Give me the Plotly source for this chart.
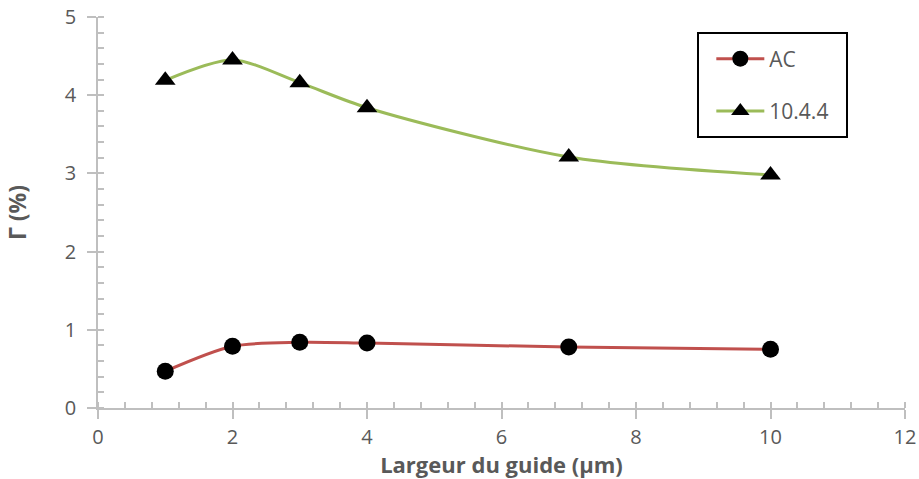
import plotly.graph_objects as go

x_vals = [1, 2, 3, 4, 7, 10]
ac_vals = [0.47, 0.79, 0.84, 0.83, 0.78, 0.75]
s1044_vals = [4.19, 4.45, 4.16, 3.84, 3.21, 2.98]
series_names = ["AC", "10.4.4"]

fig = go.Figure()
fig.add_trace(go.Scatter(
    x=x_vals, y=ac_vals, name=series_names[0], mode="lines+markers",
    line=dict(color="#C0504D", width=3, shape="spline", smoothing=0.8),
    marker=dict(symbol="circle", size=17, color="black"),
    legendgroup="a"))
fig.add_trace(go.Scatter(
    x=x_vals, y=s1044_vals, name=series_names[1], mode="lines+markers",
    line=dict(color="#9BBB59", width=3, shape="spline", smoothing=0.8),
    marker=dict(symbol="triangle-up", size=18, color="black"),
    legendgroup="b"))

axis_common = dict(
    showline=True, linecolor="#BFBFBF", linewidth=1.5,
    showgrid=False, zeroline=False, automargin=False,
    ticks="outside", ticklen=9, tickcolor="#BFBFBF", tickwidth=1.5,
    ticklabeloverflow="allow",
    tickfont=dict(family="Open Sans", size=20, color="#595959"),
)

fig.update_xaxes(
    range=[0, 12], dtick=2, tick0=0,
    minor=dict(dtick=0.4, ticks="inside", ticklen=6, tickcolor="#BFBFBF", tickwidth=1.5),
    ticklabelstandoff=1,
    title=dict(text="Largeur du guide (µm)", standoff=9,
               font=dict(family="Open Sans", size=22, color="#595959", weight="bold")),
    **axis_common)
fig.update_yaxes(
    range=[0, 5], dtick=1, tick0=0,
    minor=dict(dtick=0.2, ticks="inside", ticklen=6, tickcolor="#BFBFBF", tickwidth=1.5),
    ticklabelstandoff=7,
    title=dict(text="Γ (%)", standoff=32,
               font=dict(family="Open Sans", size=23, color="#595959", weight="bold")),
    **axis_common)

fig.update_layout(
    width=919, height=479,
    margin=dict(l=98, r=14, t=17, b=71),
    plot_bgcolor="white", paper_bgcolor="white",
    showlegend=True,
    legend=dict(
        x=0.76, y=0.945, xanchor="left", yanchor="top",
        borderwidth=0, bgcolor="rgba(0,0,0,0)",
        font=dict(family="Open Sans", size=21, color="#595959"),
        traceorder="grouped", tracegroupgap=22, itemwidth=48,
    ),
    shapes=[dict(type="rect", xref="paper", yref="paper",
                 x0=(698 - 98) / 807, x1=(847 - 98) / 807,
                 y0=1 - (137 - 17) / 391, y1=1 - (33 - 17) / 391,
                 line=dict(color="black", width=2), fillcolor="white", layer="below")],
)

fig.write_html("out.html", config={"displayModeBar": False},
               post_script="document.body.style.margin='0';")
